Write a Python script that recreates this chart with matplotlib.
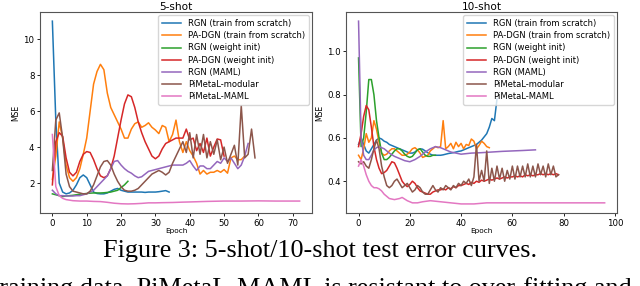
import numpy as np
import matplotlib
matplotlib.use("Agg")
import matplotlib.pyplot as plt

labels = ["RGN (train from scratch)", "PA-DGN (train from scratch)", "RGN (weight init)",
          "PA-DGN (weight init)", "RGN (MAML)", "PiMetaL-modular", "PiMetaL-MAML"]

# ---- 5-shot (values per epoch, starting at 0) ----
rgn_scratch_5 = [11.0, 5.5, 2.0, 1.5, 1.4, 1.45, 1.6, 1.9, 2.3, 2.45, 2.3, 1.9, 1.5, 1.42, 1.4, 1.4,
                 1.45, 1.55, 1.65, 1.7, 1.6, 1.55, 1.5, 1.5, 1.5, 1.5, 1.5, 1.48, 1.5, 1.5, 1.5, 1.52,
                 1.55, 1.58, 1.5]
padgn_scratch_5 = [2.2, 3.5, 5.4, 4.5, 3.0, 2.3, 2.1, 2.3, 2.8, 3.6, 4.5, 6.0, 7.5, 8.2, 8.6, 8.3, 7.0,
                   6.2, 5.8, 5.4, 5.0, 4.5, 4.5, 5.0, 5.3, 5.4, 5.1, 5.2, 5.35, 5.1, 4.95, 4.75, 5.2,
                   5.1, 4.3, 4.7, 5.5, 4.3, 3.7, 4.3, 3.8, 3.5, 3.1, 2.5, 2.7, 2.5, 2.6, 2.6, 2.7,
                   2.6, 2.75, 2.55, 3.4, 3.5, 3.3, 3.3, 3.5]
rgn_init_5 = [1.4, 1.35, 1.3, 1.25, 1.28, 1.3, 1.32, 1.35, 1.38, 1.4, 1.42, 1.44, 1.45, 1.45, 1.45,
              1.46, 1.48, 1.5, 1.55, 1.6, 1.75, 1.9, 2.1]
padgn_init_5 = [1.9, 4.3, 4.8, 4.6, 3.4, 2.6, 2.4, 2.6, 3.2, 3.6, 3.75, 3.7, 3.3, 2.8, 2.4, 2.3, 2.4,
                2.8, 3.5, 4.5, 5.5, 6.4, 6.9, 6.8, 6.2, 5.4, 4.8, 4.3, 3.9, 3.5, 3.35, 3.5, 3.9, 4.2,
                4.3, 4.4, 4.5, 4.5, 4.5, 5.0, 4.4, 4.5, 3.8, 4.2, 3.7, 4.5, 3.5, 4.0, 4.45, 4.4, 3.5]
rgn_maml_5 = [1.6, 1.4, 1.3, 1.3, 1.28, 1.28, 1.28, 1.3, 1.3, 1.35, 1.4, 1.5, 1.6, 1.8, 2.0, 2.2,
              2.4, 2.8, 3.2, 3.25, 3.0, 2.8, 2.65, 2.55, 2.4, 2.3, 2.35, 2.5, 2.65, 2.7, 2.75, 2.8,
              2.85, 2.9, 2.95, 3.0, 3.0, 3.0, 3.0, 3.1, 3.25, 2.95, 2.7, 2.95, 2.95, 2.8, 2.8, 3.0,
              3.2, 3.1, 3.4, 3.2, 3.4, 3.1, 2.8, 3.0, 3.5, 4.2]
pimetal_mod_5 = [2.7, 5.5, 5.9, 4.5, 2.5, 1.8, 1.55, 1.5, 1.45, 1.4, 1.4, 1.55, 1.9, 2.4, 2.9, 3.2,
                 3.25, 3.0, 2.5, 2.1, 1.8, 1.6, 1.55, 1.55, 1.6, 1.7, 1.9, 2.1, 2.3, 2.5, 2.6, 2.7,
                 2.6, 2.45, 2.6, 3.1, 3.5, 3.9, 4.3, 3.7, 4.8, 3.4, 4.7, 3.6, 4.7, 3.4, 4.3, 3.6,
                 4.4, 3.3, 4.0, 3.1, 3.6, 4.1, 3.0, 6.3, 3.4, 3.6, 5.0, 3.4]
pimetal_maml_5_ep = [0, 1, 2, 3, 4, 5, 6, 8, 10, 12, 14, 16, 18, 20, 22, 24, 26, 28, 30, 32, 35, 38,
                     40, 45, 50, 55, 60, 65, 70, 72]
pimetal_maml_5 = [4.7, 1.8, 1.3, 1.15, 1.08, 1.05, 1.02, 1.0, 1.0, 0.98, 0.97, 0.93, 0.88, 0.85,
                  0.84, 0.85, 0.87, 0.9, 0.9, 0.91, 0.92, 0.94, 0.95, 0.98, 1.0, 1.0, 1.01, 1.0,
                  1.0, 1.0]

# ---- 10-shot ----
rgn_scratch_10 = [0.57, 0.6, 0.57, 0.54, 0.53, 0.55, 0.57, 0.59, 0.6, 0.595, 0.585, 0.58, 0.57,
                  0.565, 0.56, 0.555, 0.55, 0.545, 0.54, 0.535, 0.53, 0.53, 0.535, 0.545, 0.55,
                  0.548, 0.54, 0.532, 0.525, 0.52, 0.52, 0.52, 0.52, 0.522, 0.525, 0.528, 0.53,
                  0.532, 0.535, 0.538, 0.54, 0.545, 0.55, 0.555, 0.56, 0.565, 0.57, 0.58, 0.59,
                  0.605, 0.62, 0.65, 0.69, 0.68, 0.78]
padgn_scratch_10 = [0.52, 0.5, 0.55, 0.62, 0.58, 0.6, 0.68, 0.64, 0.58, 0.53, 0.52, 0.525, 0.54,
                    0.55, 0.55, 0.54, 0.53, 0.52, 0.52, 0.525, 0.535, 0.55, 0.555, 0.545, 0.53,
                    0.51, 0.515, 0.52, 0.54, 0.55, 0.56, 0.555, 0.56, 0.68, 0.55, 0.56, 0.575,
                    0.55, 0.58, 0.56, 0.575, 0.55, 0.57, 0.565, 0.595, 0.585, 0.55, 0.565, 0.585,
                    0.575, 0.56, 0.555]
rgn_init_10 = [0.97, 0.56, 0.6, 0.72, 0.87, 0.87, 0.8, 0.68, 0.6, 0.53, 0.5, 0.5, 0.51, 0.525,
               0.54, 0.55, 0.55, 0.54, 0.525, 0.515, 0.51, 0.515, 0.53, 0.545, 0.55, 0.535,
               0.52, 0.515, 0.515, 0.52, 0.52]
padgn_init_10 = [0.56, 0.62, 0.7, 0.75, 0.73, 0.65, 0.56, 0.5, 0.46, 0.435, 0.44, 0.45, 0.47,
                 0.49, 0.485, 0.46, 0.43, 0.4, 0.385, 0.375, 0.385, 0.4, 0.39, 0.37, 0.355, 0.35,
                 0.345, 0.34, 0.34, 0.35, 0.355, 0.36, 0.36, 0.365, 0.36, 0.37, 0.365, 0.375,
                 0.37, 0.38, 0.38, 0.385, 0.39, 0.385, 0.395, 0.39, 0.4, 0.395, 0.405, 0.4,
                 0.405, 0.41, 0.405, 0.41, 0.415, 0.41, 0.415, 0.42, 0.415, 0.42, 0.42, 0.425,
                 0.42, 0.425, 0.42, 0.43, 0.425, 0.43, 0.425, 0.43, 0.43, 0.435, 0.43, 0.435,
                 0.43, 0.435, 0.43, 0.435, 0.43]
rgn_maml_10_ep = [0, 1, 2, 3, 4, 5, 6, 7, 8, 10, 12, 14, 16, 18, 20, 22, 24, 26, 28, 30, 32, 34,
                  36, 38, 40, 44, 48, 52, 56, 60, 64, 69]
rgn_maml_10 = [1.14, 0.6, 0.52, 0.5, 0.5, 0.52, 0.545, 0.555, 0.56, 0.55, 0.53, 0.515, 0.505,
               0.495, 0.49, 0.5, 0.515, 0.535, 0.55, 0.56, 0.555, 0.545, 0.535, 0.53, 0.525,
               0.53, 0.532, 0.535, 0.538, 0.54, 0.542, 0.545]
pimetal_mod_10 = [0.49, 0.48, 0.49, 0.47, 0.46, 0.5, 0.55, 0.59, 0.55, 0.47, 0.42, 0.38, 0.37,
                  0.38, 0.4, 0.41, 0.39, 0.37, 0.38, 0.39, 0.37, 0.35, 0.36, 0.38, 0.37, 0.35,
                  0.34, 0.34, 0.36, 0.38, 0.36, 0.35, 0.37, 0.36, 0.38, 0.37, 0.36, 0.38, 0.37,
                  0.39, 0.38, 0.4, 0.39, 0.41, 0.38, 0.42, 0.57, 0.4, 0.45, 0.4, 0.54, 0.39, 0.46,
                  0.4, 0.47, 0.41, 0.46, 0.4, 0.45, 0.41, 0.47, 0.41, 0.47, 0.42, 0.47, 0.42,
                  0.48, 0.42, 0.47, 0.42, 0.48, 0.43, 0.47, 0.42, 0.48, 0.43, 0.47, 0.42, 0.43]
pimetal_maml_10_ep = [0, 1, 2, 3, 4, 5, 6, 7, 8, 9, 10, 11, 12, 14, 16, 17, 19, 21, 23, 25, 28,
                      32, 36, 40, 45, 50, 55, 60, 70, 80, 90, 96]
pimetal_maml_10 = [0.47, 0.5, 0.47, 0.43, 0.4, 0.38, 0.37, 0.37, 0.365, 0.355, 0.34, 0.33, 0.32,
                   0.315, 0.32, 0.325, 0.31, 0.3, 0.3, 0.305, 0.31, 0.305, 0.3, 0.295, 0.295,
                   0.3, 0.3, 0.3, 0.3, 0.3, 0.3, 0.3]


def ep(v):
    return np.arange(len(v))


fig = plt.figure(figsize=(6.4, 2.86), dpi=100)
ax1 = fig.add_axes([0.0625, 0.255, 0.425, 0.703])
ax2 = fig.add_axes([0.541, 0.255, 0.423, 0.703])

series5 = [(ep(rgn_scratch_5), rgn_scratch_5), (ep(padgn_scratch_5), padgn_scratch_5),
           (ep(rgn_init_5), rgn_init_5), (ep(padgn_init_5), padgn_init_5),
           (ep(rgn_maml_5), rgn_maml_5), (ep(pimetal_mod_5), pimetal_mod_5),
           (pimetal_maml_5_ep, pimetal_maml_5)]
series10 = [(ep(rgn_scratch_10), rgn_scratch_10), (ep(padgn_scratch_10), padgn_scratch_10),
            (ep(rgn_init_10), rgn_init_10), (ep(padgn_init_10), padgn_init_10),
            (rgn_maml_10_ep, rgn_maml_10), (ep(pimetal_mod_10), pimetal_mod_10),
            (pimetal_maml_10_ep, pimetal_maml_10)]

for ax, series, title in [(ax1, series5, "5-shot"), (ax2, series10, "10-shot")]:
    for i, (x, y) in enumerate(series):
        ax.plot(x, y, color="C%d" % i, lw=1.1, label=labels[i])
    ax.set_title(title, fontsize=7.6, pad=1.5)
    ax.set_xlabel("Epoch", fontsize=5.3, labelpad=0)
    ax.set_ylabel("MSE", fontsize=5.5, labelpad=2)
    ax.tick_params(labelsize=6.2, length=2.5, width=0.6, pad=1.5)
    for s in ax.spines.values():
        s.set_linewidth(0.8)
        s.set_color("#555555")
    ax.legend(loc="upper right", fontsize=6.0, handlelength=2.3, borderaxespad=0.4,
              labelspacing=0.38, borderpad=0.45, handletextpad=0.8)

ax1.set_xticks([0, 10, 20, 30, 40, 50, 60, 70])
ax1.set_yticks([2, 4, 6, 8, 10])
ax2.set_xticks([0, 20, 40, 60, 80, 100])
ax2.set_yticks([0.4, 0.6, 0.8, 1.0])

fig.text(0.5, 0.101, "Figure 3: 5-shot/10-shot test error curves.", ha="center", va="baseline",
         fontsize=18.8, family="Liberation Serif")
fig.text(-0.0125, -0.03, "training data. PiMetaL-MAML is resistant to over-fitting and",
         ha="left", va="baseline", fontsize=18.8, family="Liberation Serif")

fig.savefig("out.png", dpi=100)
